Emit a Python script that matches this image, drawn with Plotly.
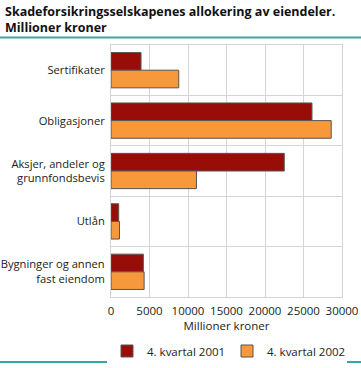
import plotly.graph_objects as go

categories = ["Sertifikater", "Obligasjoner", "Aksjer, andeler og<br>grunnfondsbevis",
              "Utlån", "Bygninger og annen<br>fast eiendom"]
values_2001 = [3900, 26100, 22500, 1000, 4200]
values_2002 = [8800, 28600, 11100, 1100, 4300]
series_names = ["4. kvartal 2001", "4. kvartal 2002"]
x_ticks = [0, 5000, 10000, 15000, 20000, 25000, 30000]

font = "Open Sans, Noto Sans, sans-serif"
fig = go.Figure()
fig.add_trace(go.Bar(y=categories, x=values_2001, orientation="h", name=series_names[0],
                     marker=dict(color="#990d08", line=dict(color="#555555", width=1))))
fig.add_trace(go.Bar(y=categories, x=values_2002, orientation="h", name=series_names[1],
                     marker=dict(color="#f7993a", line=dict(color="#555555", width=1))))

L, R, T, B = 111, 19, 45, 71
W, H = 361, 368
pw, ph = W - L - R, H - T - B

fig.update_layout(
    width=W, height=H,
    margin=dict(l=L, r=R, t=T, b=B, autoexpand=False),
    paper_bgcolor="white", plot_bgcolor="white",
    barmode="group", bargap=0.3, bargroupgap=0,
    font=dict(family=font, size=11, color="#222222"),
    legend=dict(orientation="h", x=-4 / pw, xanchor="left", y=-(351 - T - ph) / ph, yanchor="middle",
                font=dict(size=11.5), entrywidth=75, entrywidthmode="pixels"),
    showlegend=True,
)
fig.add_annotation(text="<b>Skadeforsikringsselskapenes allokering av eiendeler.<br>Millioner kroner</b>",
                   xref="paper", yref="paper", x=-(L - 3) / pw, y=1 + (T - 1) / ph,
                   xanchor="left", yanchor="top", align="left", showarrow=False,
                   font=dict(family=font, size=12.5, color="#111111"))
fig.update_xaxes(range=[0, 30000], tickvals=x_ticks, ticktext=[str(v) for v in x_ticks],
                 showgrid=True, gridcolor="#d4d4d4", gridwidth=1, tickangle=0,
                 showline=True, linecolor="#d4d4d4", mirror=True, zeroline=False,
                 ticks="", tickfont=dict(size=11.5), automargin=False, ticklabelstandoff=3,
                 title=dict(text="Millioner kroner", font=dict(size=11.5), standoff=2))
fig.update_yaxes(autorange="reversed", tickson="boundaries", showgrid=True,
                 gridcolor="#d4d4d4", gridwidth=1, showline=True, linecolor="#d4d4d4",
                 mirror=True, ticks="", tickfont=dict(size=11.2), ticklabelstandoff=3,
                 automargin=False)

teal = "#3aa6a0"
top_y = 1 + (T - 37.5) / ph
bot_y = -(362 - T - ph) / ph
fig.add_shape(type="line", xref="paper", yref="paper", x0=-L / pw, x1=(W - L) / pw,
              y0=top_y, y1=top_y, line=dict(color=teal, width=2), layer="above")
fig.add_shape(type="line", xref="paper", yref="paper", x0=-L / pw, x1=(W - L) / pw,
              y0=bot_y, y1=bot_y, line=dict(color=teal, width=2), layer="above")

fig.write_html("out.html", config={"displayModeBar": False},
               post_script="document.body.style.margin='0';document.body.style.overflow='hidden';")
